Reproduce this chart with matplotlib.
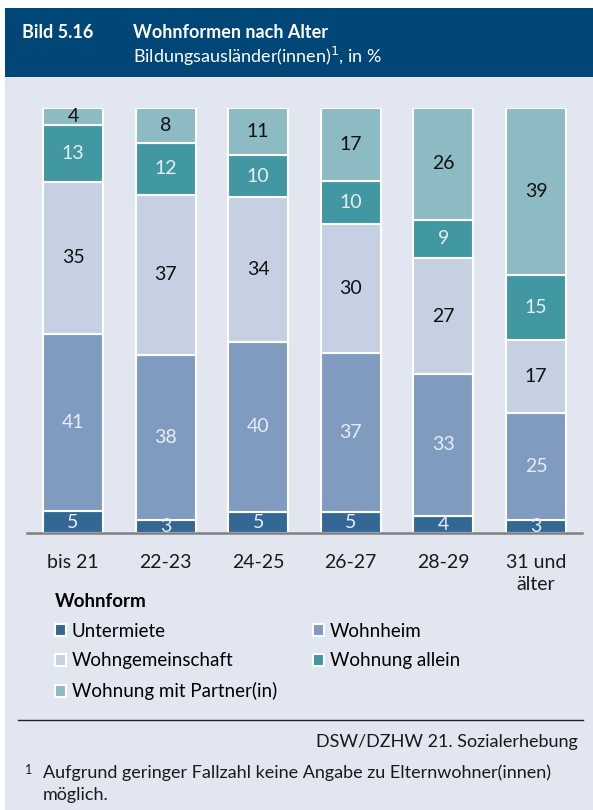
import numpy as np
import matplotlib.pyplot as plt
from matplotlib.patches import Rectangle
from matplotlib.lines import Line2D

plt.rcParams['font.family'] = ['Lato', 'DejaVu Sans']

# Daten
altersgruppen = ["bis 21", "22-23", "24-25", "26-27", "28-29", "31 und\nälter"]
wohnformen = ["Untermiete", "Wohnheim", "Wohngemeinschaft", "Wohnung allein", "Wohnung mit Partner(in)"]
untermiete = [5, 3, 5, 5, 4, 3]
wohnheim = [41, 38, 40, 37, 33, 25]
wg = [35, 37, 34, 30, 27, 17]
allein = [13, 12, 10, 10, 9, 15]
partner = [4, 8, 11, 17, 26, 39]

farben = ["#336895", "#7F9BBF", "#C5D1E2", "#4298A2", "#8DBBC3"]
textfarben = ["#E8ECF3", "#E8ECF3", "#111111", "#E8ECF3", "#111111"]
bg = "#E1E6F1"
header = "#004677"

W, H = 593, 810
fig = plt.figure(figsize=(W / 100, H / 100), dpi=100)

def fx(px):
    return px / W

def fy(py):
    return 1 - py / H

# Hintergrund und Kopfzeile
fig.add_artist(Rectangle((fx(5), 0), 1 - fx(5), fy(77), transform=fig.transFigure,
                         facecolor=bg, edgecolor='none', zorder=0))
fig.add_artist(Rectangle((fx(5), fy(77)), 1 - fx(5), fy(8) - fy(77), transform=fig.transFigure,
                         facecolor=header, edgecolor='none', zorder=0))
fig.text(fx(22), fy(33), "Bild 5.16", color="white", fontsize=13, fontweight="bold", va="center")
fig.text(fx(133), fy(33), "Wohnformen nach Alter", color="white", fontsize=13, fontweight="bold", va="center")
fig.text(fx(133), fy(56), "Bildungsausländer(innen)$^1$, in %", color="white", fontsize=13, va="center")

# Diagramm
ax = fig.add_axes([fx(26.75), fy(533), fx(582.25) - fx(26.75), fy(108) - fy(533)])
ax.set_facecolor('none')

daten = np.array([untermiete, wohnheim, wg, allein, partner], dtype=float)
anteile = daten / daten.sum(axis=0) * 100
x = np.arange(len(altersgruppen))
unten = np.zeros(len(altersgruppen))
container = []
for i, name in enumerate(wohnformen):
    bars = ax.bar(x, anteile[i], 0.65, bottom=unten, color=farben[i],
                  edgecolor="white", linewidth=1.5, label=name)
    container.append(bars)
    for j in range(len(x)):
        ax.text(x[j], unten[j] + anteile[i][j] / 2, str(int(daten[i][j])),
                ha="center", va="center", fontsize=14, color=textfarben[i], clip_on=True)
    unten += anteile[i]

ax.set_xlim(-0.5, 5.5)
ax.set_ylim(0, 100)
ax.set_yticks([])
ax.set_xticks(x)
ax.set_xticklabels(altersgruppen, fontsize=14, color="#1a1a1a", va="top", linespacing=1.35)
ax.tick_params(axis="x", length=0, pad=15)
for s in ["top", "left", "right"]:
    ax.spines[s].set_visible(False)
ax.spines["bottom"].set_color("#808080")
ax.spines["bottom"].set_linewidth(1.8)
ax.spines["bottom"].set_zorder(5)

# Legende
reihenfolge = [0, 2, 4, 1, 3]
leg = fig.legend([container[k] for k in reihenfolge], [wohnformen[k] for k in reihenfolge],
                 ncol=2, loc="upper left", bbox_to_anchor=(fx(38), fy(576)),
                 frameon=False, fontsize=13.5, title="Wohnform",
                 title_fontproperties={"weight": "bold", "size": 13.5},
                 alignment="left", handlelength=0.6, handleheight=0.6,
                 handletextpad=0.3, labelspacing=0.68, columnspacing=1.9)

# Fußzeile
fig.add_artist(Line2D([fx(18), fx(583)], [fy(720), fy(720)], transform=fig.transFigure,
                      color="#222222", linewidth=1.0))
fig.text(fx(578), fy(742), "DSW/DZHW 21. Sozialerhebung", ha="right", va="center",
         fontsize=13, color="#1a1a1a")
fig.text(fx(25), fy(770), "1", fontsize=9, va="center", color="#1a1a1a")
fig.text(fx(43), fy(764), "Aufgrund geringer Fallzahl keine Angabe zu Elternwohner(innen)\nmöglich.",
         va="top", fontsize=13, color="#1a1a1a", linespacing=1.5)

fig.savefig("out.png", dpi=100)
